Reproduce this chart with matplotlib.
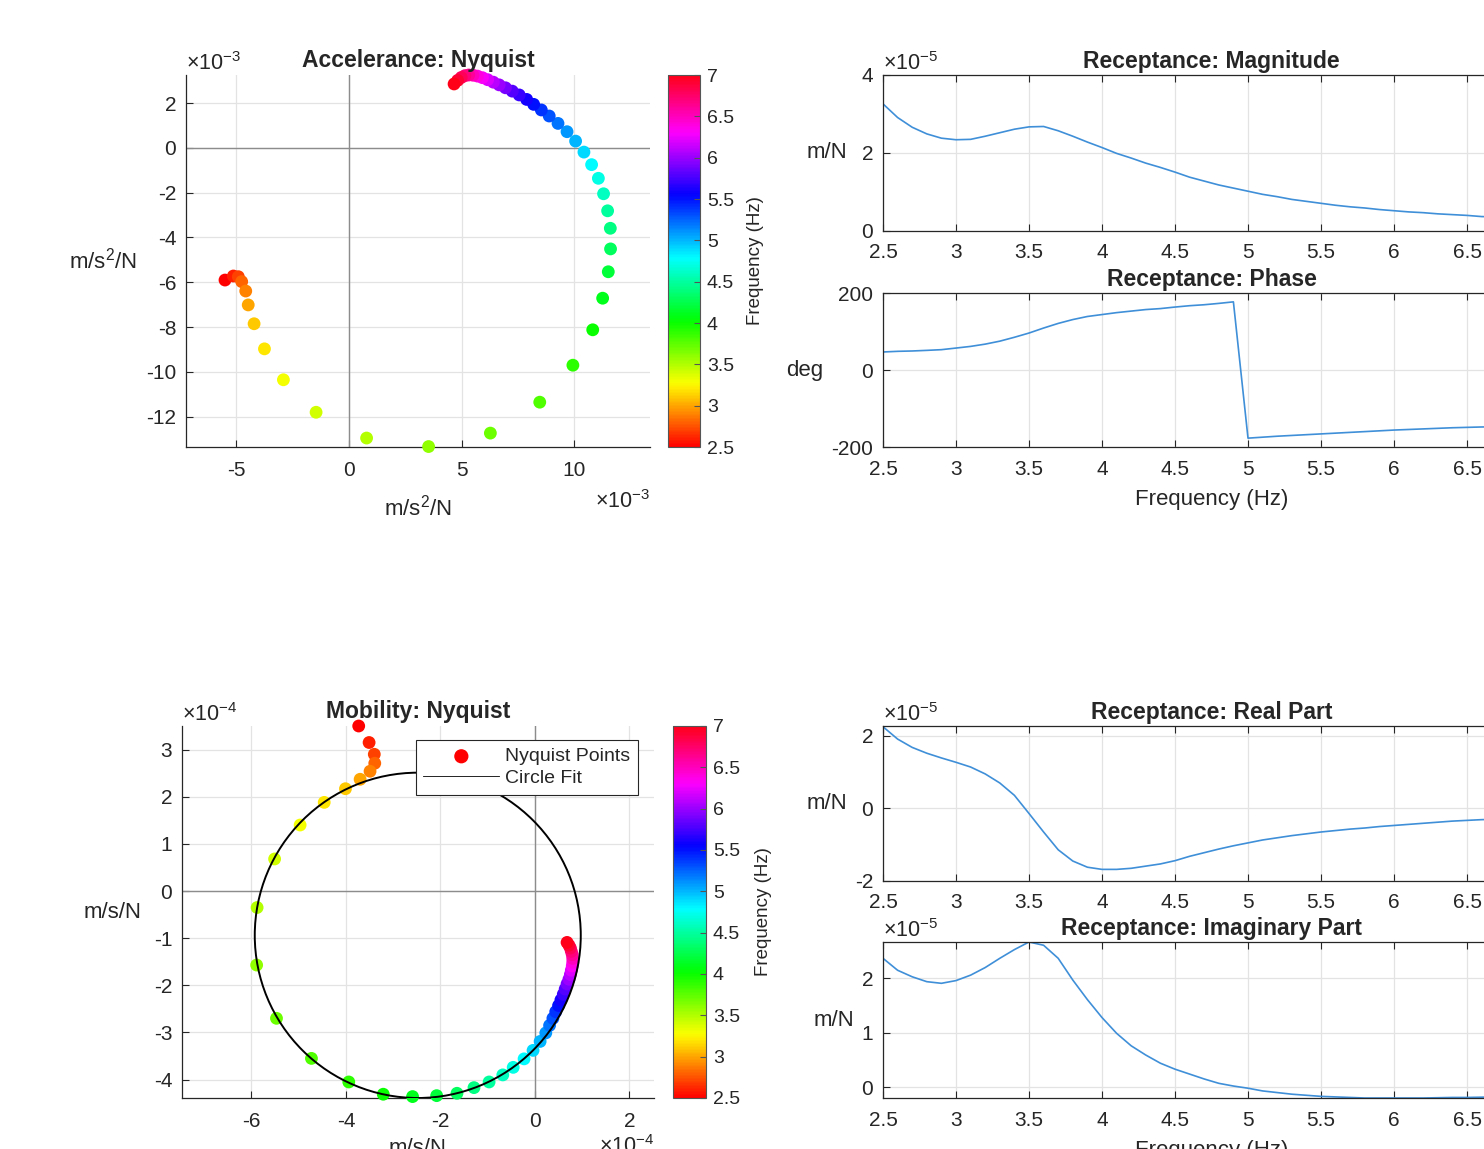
import matplotlib
matplotlib.use('Agg')
import matplotlib.pyplot as plt
from matplotlib.patches import Circle
from matplotlib.ticker import FormatStrFormatter

# ── data ────────────────────────────────────────────────────
FREQ = [2.5, 2.6, 2.7, 2.8, 2.9, 3.0, 3.1, 3.2, 3.3, 3.4,
        3.5, 3.6, 3.7, 3.8, 3.9, 4.0, 4.1, 4.2, 4.3, 4.4,
        4.5, 4.6, 4.7, 4.8, 4.9, 5.0, 5.1, 5.2, 5.3, 5.4,
        5.5, 5.6, 5.7, 5.8, 5.9, 6.0, 6.1, 6.2, 6.3, 6.4,
        6.5, 6.6, 6.7, 6.8, 6.9, 7.0]

# receptance, x1e-5 m/N
REC_MAG = [3.26, 2.91, 2.66, 2.49, 2.38, 2.34, 2.35, 2.43, 2.52, 2.61,
           2.67, 2.68, 2.57, 2.43, 2.28, 2.14, 1.99, 1.87, 1.74, 1.63,
           1.51, 1.38, 1.28, 1.18, 1.10, 1.02, 0.94, 0.88, 0.81, 0.76,
           0.71, 0.66, 0.62, 0.59, 0.55, 0.52, 0.49, 0.47, 0.44, 0.42,
           0.40, 0.37, 0.36, 0.34, 0.32, 0.31]
REC_PHASE = [46.8, 48.5, 49.4, 51.0, 52.8, 57.0, 61.3, 67.2, 74.9, 85.0,
             96.0, 109.0, 121.0, 131.0, 139.0, 144.0, 149.0, 153.0, 157.0, 159.5,
             163.5, 167.0, 169.5, 173.0, 177.0, -177.0, -174.5, -172.0, -170.0, -168.0,
             -166.0, -164.0, -162.0, -160.0, -158.0, -156.0, -154.5, -153.0, -151.5, -150.0,
             -149.0, -148.0, -147.5, -147.0, -146.5, -146.0]
REC_REAL = [2.25, 1.91, 1.68, 1.52, 1.39, 1.27, 1.14, 0.95, 0.70, 0.36,
            -0.14, -0.65, -1.14, -1.45, -1.62, -1.68, -1.68, -1.65, -1.59, -1.53,
            -1.44, -1.32, -1.22, -1.12, -1.03, -0.95, -0.87, -0.81, -0.75, -0.70,
            -0.65, -0.61, -0.57, -0.54, -0.50, -0.47, -0.44, -0.41, -0.38, -0.35,
            -0.33, -0.31, -0.30, -0.29, -0.28, -0.27]
REC_IMAG = [2.37, 2.15, 2.03, 1.94, 1.91, 1.96, 2.06, 2.20, 2.37, 2.53,
            2.67, 2.61, 2.37, 1.97, 1.61, 1.28, 0.99, 0.76, 0.59, 0.44,
            0.33, 0.24, 0.15, 0.07, 0.02, -0.02, -0.07, -0.10, -0.13, -0.15,
            -0.17, -0.18, -0.19, -0.20, -0.20, -0.20, -0.20, -0.20, -0.195, -0.19,
            -0.19, -0.185, -0.18, -0.175, -0.17, -0.165]

# accelerance, x1e-3 m/s^2/N
ACC_RE = [-5.50, -5.13, -4.91, -4.76, -4.58, -4.47, -4.21, -3.75, -2.91, -1.46,
          0.78, 3.53, 6.27, 8.46, 9.93, 10.81, 11.25, 11.50, 11.60, 11.59,
          11.47, 11.29, 11.06, 10.76, 10.42, 10.05, 9.67, 9.27, 8.88, 8.53,
          8.19, 7.88, 7.55, 7.24, 6.94, 6.66, 6.40, 6.15, 5.92, 5.70,
          5.50, 5.31, 5.14, 4.98, 4.82, 4.66]
ACC_IM = [-5.90, -5.72, -5.75, -5.97, -6.39, -7.01, -7.85, -8.97, -10.35, -11.80,
          -12.95, -13.33, -12.73, -11.35, -9.70, -8.12, -6.71, -5.53, -4.51, -3.59,
          -2.81, -2.05, -1.36, -0.75, -0.19, 0.30, 0.72, 1.09, 1.42, 1.69,
          1.94, 2.16, 2.36, 2.53, 2.68, 2.81, 2.93, 3.04, 3.13, 3.20,
          3.24, 3.25, 3.22, 3.14, 3.01, 2.85]

# mobility, x1e-4 m/s/N
MOB_RE = [-3.73, -3.51, -3.40, -3.39, -3.49, -3.70, -4.01, -4.46, -4.97, -5.51,
          -5.88, -5.89, -5.47, -4.73, -3.94, -3.21, -2.59, -2.08, -1.65, -1.29,
          -0.97, -0.68, -0.46, -0.23, -0.04, 0.11, 0.23, 0.31, 0.38, 0.44,
          0.50, 0.55, 0.60, 0.64, 0.68, 0.72, 0.75, 0.77, 0.79, 0.80,
          0.80, 0.79, 0.77, 0.75, 0.72, 0.68]
MOB_IM = [3.50, 3.15, 2.90, 2.71, 2.54, 2.37, 2.17, 1.88, 1.40, 0.68,
          -0.35, -1.57, -2.70, -3.55, -4.05, -4.31, -4.36, -4.34, -4.29, -4.17,
          -4.05, -3.90, -3.74, -3.56, -3.38, -3.19, -3.01, -2.85, -2.70, -2.56,
          -2.43, -2.31, -2.19, -2.08, -1.97, -1.87, -1.77, -1.68, -1.59, -1.51,
          -1.43, -1.35, -1.28, -1.21, -1.15, -1.09]

FIT_CENTER = (-2.48, -0.94)
FIT_RADIUS = 3.45

# ── style ───────────────────────────────────────────────────
DARK = '#262626'
GRID = '#e3e3e3'
LINE = '#3f8fd8'
W, H = 1484, 1149
TICK_FS = 15
LABEL_FS = 16
TITLE_FS = 16.5

plt.rcParams.update({
    'font.family': ['Liberation Sans', 'DejaVu Sans'],
    'mathtext.fontset': 'custom',
    'mathtext.rm': 'Liberation Sans',
    'mathtext.it': 'Liberation Sans:italic',
    'mathtext.bf': 'Liberation Sans:bold',
    'axes.edgecolor': DARK,
    'axes.linewidth': 0.9,
    'text.color': DARK,
    'axes.labelcolor': DARK,
    'xtick.color': DARK,
    'ytick.color': DARK,
})

fig = plt.figure(figsize=(W / 100, H / 100), dpi=100)
fig.patch.set_facecolor('white')


def px_axes(left, top, right, bottom):
    return fig.add_axes([left / W, 1 - bottom / H, (right - left) / W, (bottom - top) / H])


def expo_text(ax, x, y, expo, ha, va):
    ax.text(x, y, r'$\times10^{%d}$' % expo, transform=ax.transAxes,
            ha=ha, va=va, fontsize=15.5)


def nyquist(ax, re, im, title, unit, xl, yl, xticks, yticks, expo, ylab_x, xlab_y, expo_y):
    ax.axhline(0, color='#8c8c8c', lw=1.0, zorder=1)
    ax.axvline(0, color='#8c8c8c', lw=1.0, zorder=1)
    sc = ax.scatter(re, im, c=FREQ, cmap='hsv', vmin=2.5, vmax=7.0, s=85,
                    edgecolors='none', zorder=3, clip_on=False)
    ax.set_xlim(*xl)
    ax.set_ylim(*yl)
    ax.set_xticks(xticks)
    ax.set_yticks(yticks)
    ax.xaxis.set_major_formatter(FormatStrFormatter('%g'))
    ax.yaxis.set_major_formatter(FormatStrFormatter('%g'))
    ax.grid(True, color=GRID, lw=0.9, zorder=0)
    ax.set_axisbelow(True)
    for s in ['top', 'right']:
        ax.spines[s].set_visible(False)
    ax.tick_params(direction='in', length=5, labelsize=TICK_FS, pad=7)
    ax.tick_params(axis='x', pad=10)
    ax.set_title(title, fontsize=TITLE_FS, fontweight='bold', pad=6)
    ax.set_ylabel(unit, fontsize=LABEL_FS, rotation=0, ha='right', va='center')
    ax.yaxis.set_label_coords(ylab_x, 0.5)
    ax.set_xlabel(unit, fontsize=LABEL_FS)
    ax.xaxis.set_label_coords(0.5, xlab_y)
    expo_text(ax, 0.0, 1.0, expo, 'left', 'bottom')
    expo_text(ax, 1.0, expo_y, expo, 'right', 'top')
    return sc


def add_cbar(sc, left, top, right, bottom):
    cax = px_axes(left, top, right, bottom)
    cb = fig.colorbar(sc, cax=cax)
    cb.set_ticks([2.5, 3, 3.5, 4, 4.5, 5, 5.5, 6, 6.5, 7])
    cb.ax.yaxis.set_major_formatter(FormatStrFormatter('%g'))
    cb.outline.set_edgecolor('#555555')
    cb.outline.set_linewidth(0.8)
    cax.tick_params(direction='in', length=4, labelsize=14, pad=5, color='#555555')
    cax.text(2.75, 0.5, 'Frequency (Hz)', rotation=90, ha='center', va='center',
             transform=cax.transAxes, fontsize=13.5)


def freq_axes(ax, y, title, ylab, yl, yticks, ylab_x, expo=None):
    ax.plot(FREQ, y, color=LINE, lw=1.2)
    ax.set_xlim(2.5, 7.0)
    ax.set_ylim(*yl)
    ax.set_xticks([2.5, 3, 3.5, 4, 4.5, 5, 5.5, 6, 6.5, 7])
    ax.set_yticks(yticks)
    ax.xaxis.set_major_formatter(FormatStrFormatter('%g'))
    ax.yaxis.set_major_formatter(FormatStrFormatter('%g'))
    ax.grid(True, color=GRID, lw=0.9)
    ax.set_axisbelow(True)
    ax.tick_params(direction='in', length=5, labelsize=TICK_FS, top=True, right=True, pad=7)
    ax.tick_params(axis='x', pad=9)
    ax.set_title(title, fontsize=TITLE_FS, fontweight='bold', pad=5)
    ax.set_ylabel(ylab, fontsize=LABEL_FS, rotation=0, ha='right', va='center')
    ax.yaxis.set_label_coords(ylab_x, 0.5)
    if expo is not None:
        expo_text(ax, 0.0, 1.0, expo, 'left', 'bottom')


# ── accelerance Nyquist ─────────────────────────────────────
ax_acc = px_axes(186, 75, 650, 447)
sc1 = nyquist(ax_acc, ACC_RE, ACC_IM, 'Accelerance: Nyquist', r'm/s$^2$/N',
              (-7.23, 13.35), (-13.35, 3.25), [-5, 0, 5, 10],
              [2, 0, -2, -4, -6, -8, -10, -12], -3, -0.106, -0.128, -0.115)
add_cbar(sc1, 668, 75, 700, 447)

# ── mobility Nyquist ────────────────────────────────────────
ax_mob = px_axes(182, 726, 654, 1098)
sc2 = nyquist(ax_mob, MOB_RE, MOB_IM, 'Mobility: Nyquist', 'm/s/N',
              (-7.47, 2.52), (-4.39, 3.50), [-6, -4, -2, 0, 2],
              [3, 2, 1, 0, -1, -2, -3, -4], -4, -0.085, -0.108, -0.1)
fit = Circle(FIT_CENTER, FIT_RADIUS, fill=False, color='black', lw=1.4, zorder=4)
ax_mob.add_patch(fit)
fit_handle = plt.Line2D([], [], color='black', lw=0.6)
leg = ax_mob.legend([sc2, fit_handle], ['Nyquist Points', 'Circle Fit'],
                    loc='upper right', bbox_to_anchor=(638 / W, 1 - 740 / H),
                    bbox_transform=fig.transFigure, fontsize=14, frameon=True,
                    fancybox=False, edgecolor=DARK, framealpha=1, borderpad=0.4,
                    borderaxespad=0, handlelength=3.9, handletextpad=0.3,
                    labelspacing=0.2, scatterpoints=1)
leg.get_frame().set_linewidth(0.8)
leg.legend_handles[0].set_color('red')
add_cbar(sc2, 673, 726, 706, 1098)

# ── receptance plots (right side runs past the figure edge) ─
ax_mag = px_axes(883, 75, 1540, 231)
freq_axes(ax_mag, REC_MAG, 'Receptance: Magnitude', 'm/N', (0, 4), [0, 2, 4], -0.055, -5)

ax_ph = px_axes(883, 293, 1540, 447)
freq_axes(ax_ph, REC_PHASE, 'Receptance: Phase', 'deg', (-200, 200), [-200, 0, 200], -0.091)
ax_ph.set_xlabel('Frequency (Hz)', fontsize=LABEL_FS)
ax_ph.xaxis.set_label_coords(0.5, -0.27)

ax_re = px_axes(883, 726, 1540, 881)
freq_axes(ax_re, REC_REAL, 'Receptance: Real Part', 'm/N', (-2, 2.27), [-2, 0, 2], -0.055, -5)

ax_im = px_axes(883, 942, 1540, 1098)
freq_axes(ax_im, REC_IMAG, 'Receptance: Imaginary Part', 'm/N', (-0.2, 2.67), [0, 1, 2], -0.044, -5)
ax_im.set_xlabel('Frequency (Hz)', fontsize=LABEL_FS)
ax_im.xaxis.set_label_coords(0.5, -0.27)

fig.savefig('out.png', dpi=100, facecolor='white')
plt.close(fig)
print('Created: out.png')
